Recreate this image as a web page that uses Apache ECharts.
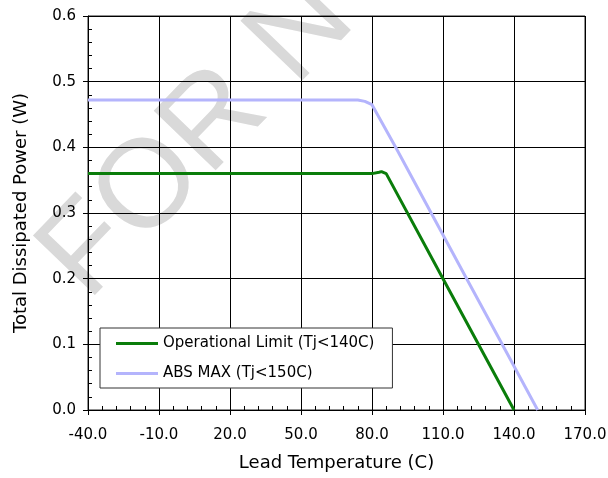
<!DOCTYPE html>
<html><head><meta charset="utf-8">
<script src="https://cdn.jsdelivr.net/npm/echarts@6/dist/echarts.min.js"></script>
<style>html,body{margin:0;padding:0;background:#fff}#c{width:608px;height:478px}</style>
</head><body><div id="c"></div>
<script>
const xTickValues = [-40, -10, 20, 50, 80, 110, 140, 170];
const yTickValues = [0, 0.1, 0.2, 0.3, 0.4, 0.5, 0.6];
const opLimitTemp = [-40, 80, 83, 84, 86, 110, 140];
const opLimitPower = [0.36, 0.36, 0.362, 0.363, 0.36, 0.2, 0];
const absMaxTemp = [-40, 74, 77, 80, 90, 105, 120, 135, 150];
const absMaxPower = [0.472, 0.472, 0.470, 0.465, 0.4, 0.3, 0.2, 0.1, 0];
const seriesNames = ['Operational Limit (Tj<140C)', 'ABS MAX (Tj<150C)'];
const xAxisTitle = 'Lead Temperature (C)';
const yAxisTitle = 'Total Dissipated Power (W)';
const watermarkText = 'FOR N';

const minorPerMajor = 5;
const xMinorValues = [];
for (let i = 0; i < xTickValues.length - 1; i++) {
  const a = xTickValues[i], b = xTickValues[i + 1];
  for (let k = 0; k < minorPerMajor; k++) xMinorValues.push(a + (b - a) * k / minorPerMajor);
}
xMinorValues.push(xTickValues[xTickValues.length - 1]);
const yMinorValues = [];
for (let i = 0; i < yTickValues.length - 1; i++) {
  const a = yTickValues[i], b = yTickValues[i + 1];
  for (let k = 0; k < minorPerMajor; k++) yMinorValues.push(+(a + (b - a) * k / minorPerMajor).toFixed(4));
}
yMinorValues.push(yTickValues[yTickValues.length - 1]);

const zip = (xs, ys) => xs.map((x, i) => [x, ys[i]]);
const tickFont = { fontFamily: 'DejaVu Sans', fontSize: 15, color: '#000' };
const xMin = xTickValues[0], xMax = xTickValues[xTickValues.length - 1];
const yMin = yTickValues[0], yMax = yTickValues[yTickValues.length - 1];

const chart = echarts.init(document.getElementById('c'), null, { renderer: 'canvas' });
chart.setOption({
  animation: false,
  backgroundColor: '#fff',
  graphic: [{
    type: 'text', x: 108, y: 322, rotation: 46 * Math.PI / 180, z: -10, silent: true,
    style: { text: watermarkText, fill: '#d9d9d9', font: '125px "Liberation Sans"', verticalAlign: 'bottom' }
  }],
  grid: { left: 88, right: 23, top: 16, bottom: 68, containLabel: false, outerBoundsMode: 'none',
    show: true, borderColor: '#222', borderWidth: 1, backgroundColor: 'transparent' },
  xAxis: [{
    type: 'value', min: xMin, max: xMax, position: 'bottom',
    name: xAxisTitle, nameLocation: 'middle', nameGap: 44,
    nameTextStyle: { fontFamily: 'DejaVu Sans', fontSize: 18, color: '#000' },
    axisLine: { show: true, onZero: false, lineStyle: { color: '#000', width: 1 } },
    axisTick: { show: true, inside: false, length: 5, customValues: xTickValues, lineStyle: { color: '#000' } },
    axisLabel: { show: true, margin: 18, customValues: xTickValues, formatter: v => Number(v).toFixed(1), ...tickFont },
    splitLine: { show: true, lineStyle: { color: '#000', width: 1 } }
  }, {
    type: 'value', min: xMin, max: xMax, position: 'bottom',
    axisLine: { show: false, onZero: false },
    axisTick: { show: true, inside: true, length: 4, customValues: xMinorValues, lineStyle: { color: '#000' } },
    axisLabel: { show: false }, splitLine: { show: false }
  }],
  yAxis: [{
    type: 'value', min: yMin, max: yMax, interval: 0.1, position: 'left',
    name: yAxisTitle, nameLocation: 'middle', nameGap: 58,
    nameTextStyle: { fontFamily: 'DejaVu Sans', fontSize: 18, color: '#000' },
    axisLine: { show: true, onZero: false, lineStyle: { color: '#000', width: 1 } },
    axisTick: { show: true, inside: false, length: 5, customValues: yTickValues, lineStyle: { color: '#000' } },
    axisLabel: { show: true, margin: 12, customValues: yTickValues, formatter: v => Number(v).toFixed(1), ...tickFont },
    splitLine: { show: true, lineStyle: { color: '#000', width: 1 } }
  }, {
    type: 'value', min: yMin, max: yMax, position: 'left',
    axisLine: { show: false, onZero: false },
    axisTick: { show: true, inside: true, length: 4, customValues: yMinorValues, lineStyle: { color: '#000' } },
    axisLabel: { show: false }, splitLine: { show: false }
  }],
  legend: {
    orient: 'vertical', left: 100, top: 328,
    backgroundColor: '#fff', borderColor: '#333', borderWidth: 1,
    padding: [7, 18, 6, 16], itemGap: 13, itemWidth: 42, itemHeight: 3,
    textStyle: { fontFamily: 'DejaVu Sans', fontSize: 15, color: '#000', lineHeight: 17 },
    data: [{ name: seriesNames[0], icon: 'rect' }, { name: seriesNames[1], icon: 'rect' }]
  },
  series: [{
    name: seriesNames[1], type: 'line', data: zip(absMaxTemp, absMaxPower),
    showSymbol: false, symbol: 'none', color: '#b4b4fc',
    lineStyle: { color: '#b4b4fc', width: 3 }, z: 3
  }, {
    name: seriesNames[0], type: 'line', data: zip(opLimitTemp, opLimitPower),
    showSymbol: false, symbol: 'none', color: '#0a7d0a',
    lineStyle: { color: '#0a7d0a', width: 3 }, z: 4
  }]
});
</script></body></html>
